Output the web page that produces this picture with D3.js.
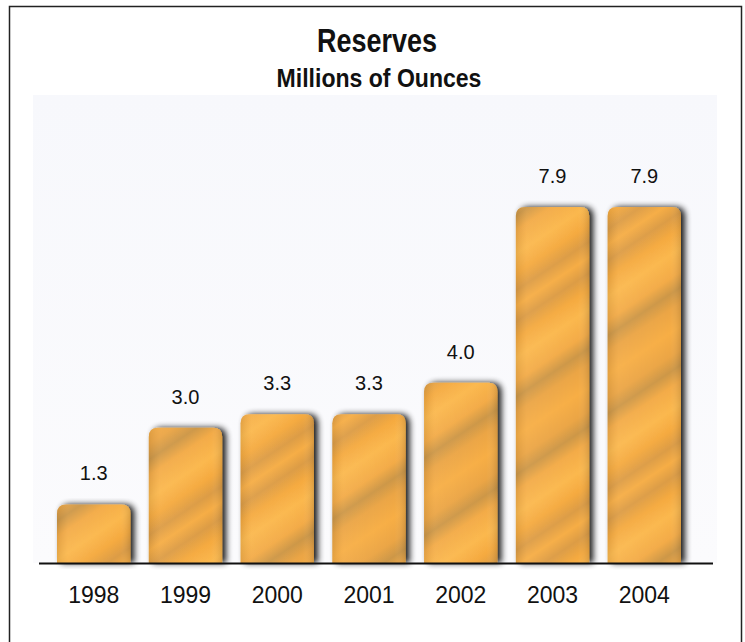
<!DOCTYPE html>
<html><head><meta charset="utf-8">
<script src="https://cdn.jsdelivr.net/npm/d3@7/dist/d3.min.js"></script>
<style>html,body{margin:0;padding:0;background:#fff;}svg{display:block;}</style>
</head><body>
<script>
const years = ["1998","1999","2000","2001","2002","2003","2004"];
const reserves = [1.3, 3.0, 3.3, 3.3, 4.0, 7.9, 7.9];
const valueLabels = ["1.3","3.0","3.3","3.3","4.0","7.9","7.9"];

const W = 745, H = 642;
const svg = d3.select("body").append("svg").attr("width", W).attr("height", H);
const defs = svg.append("defs");

const pg = defs.append("linearGradient").attr("id","panel").attr("x1",0).attr("y1",0).attr("x2",0).attr("y2",1);
pg.append("stop").attr("offset","0%").attr("stop-color","#f7f8fc");
pg.append("stop").attr("offset","100%").attr("stop-color","#fbfbfd");

const gg = defs.append("linearGradient").attr("id","gold")
  .attr("gradientUnits","userSpaceOnUse")
  .attr("x1",0).attr("y1",0).attr("x2",60).attr("y2",90)
  .attr("spreadMethod","reflect");
[["0%","#f7ae45"],["18%","#eba544"],["30%","#cd9747"],["42%","#f3ab47"],["60%","#fbb84e"],["75%","#f5aa40"],["88%","#dc9c45"],["100%","#f6ad44"]]
  .forEach(([o,c]) => gg.append("stop").attr("offset",o).attr("stop-color",c));

const hl = defs.append("linearGradient").attr("id","hl").attr("x1",0).attr("y1",0).attr("x2",1).attr("y2",0);
hl.append("stop").attr("offset","0%").attr("stop-color","#000").attr("stop-opacity",0.08);
hl.append("stop").attr("offset","15%").attr("stop-color","#fff").attr("stop-opacity",0.05);
hl.append("stop").attr("offset","85%").attr("stop-color","#fff").attr("stop-opacity",0);
hl.append("stop").attr("offset","100%").attr("stop-color","#000").attr("stop-opacity",0.12);

const f = defs.append("filter").attr("id","shadow").attr("x","-30%").attr("y","-10%").attr("width","160%").attr("height","120%");
f.append("feGaussianBlur").attr("in","SourceAlpha").attr("stdDeviation",3).attr("result","b");
f.append("feOffset").attr("in","b").attr("dx",4).attr("dy",0).attr("result","o");
f.append("feComponentTransfer").attr("in","o").attr("result","s")
  .append("feFuncA").attr("type","linear").attr("slope",0.9);
const m = f.append("feMerge");
m.append("feMergeNode").attr("in","s");
m.append("feMergeNode").attr("in","SourceGraphic");

svg.append("rect").attr("x",33).attr("y",95).attr("width",684).attr("height",468).attr("fill","url(#panel)");
svg.append("rect").attr("x",9.5).attr("y",6.5).attr("width",732).attr("height",650)
  .attr("fill","none").attr("stroke","#222").attr("stroke-width",1.5);

const baseY = 563;
const x = d3.scaleBand().domain(years).range([57, 681]).paddingInner(0.2).paddingOuter(0);
const y = d3.scaleLinear().domain([0, 7.9]).range([baseY, 207]);

function barPath(x0, y0, w, h, r) {
  return `M${x0},${y0+h} L${x0},${y0+r} Q${x0},${y0} ${x0+r},${y0} L${x0+w-r},${y0} Q${x0+w},${y0} ${x0+w},${y0+r} L${x0+w},${y0+h} Z`;
}

const bars = svg.append("g");
years.forEach((yr, i) => {
  const x0 = x(yr), w = x.bandwidth(), top = y(reserves[i]), h = baseY - top;
  const g = bars.append("g");
  g.append("path").attr("d", barPath(x0, top, w, h, 9)).attr("fill","url(#gold)").attr("filter","url(#shadow)");
  g.append("path").attr("d", barPath(x0, top, w, h, 9)).attr("fill","url(#hl)");
});

svg.append("line").attr("x1",39).attr("x2",713).attr("y1",baseY+0.5).attr("y2",baseY+0.5)
  .attr("stroke","#111").attr("stroke-width",2);

svg.append("g").selectAll("text").data(years).join("text")
  .attr("x", d => x(d) + x.bandwidth()/2)
  .attr("y", (d,i) => y(reserves[i]) - 24)
  .attr("text-anchor","middle")
  .attr("font-family","Liberation Sans, Arial, sans-serif")
  .attr("font-size",20).attr("fill","#111")
  .text((d,i) => valueLabels[i]);

const xAxis = d3.axisBottom(x).tickSize(0).tickPadding(0);
const ax = svg.append("g").attr("transform",`translate(0,${baseY})`).call(xAxis);
ax.select(".domain").remove();
ax.selectAll("text").attr("font-family","Liberation Sans, Arial, sans-serif")
  .attr("font-size",23).attr("fill","#111").attr("dy",0).attr("y",40);

function condensedText(txt, cx, by, size, targetW) {
  const t = svg.append("text").attr("x",0).attr("y",0).attr("text-anchor","middle")
    .attr("font-family","Liberation Sans, Arial, sans-serif")
    .attr("font-weight","bold").attr("font-size",size).attr("fill","#111").text(txt);
  const len = t.node().getComputedTextLength();
  t.attr("transform",`translate(${cx},${by}) scale(${targetW/len},1)`);
}
condensedText("Reserves", 377, 52, 33, 120);
condensedText("Millions of Ounces", 379, 87, 25, 205);
</script>
</body></html>
